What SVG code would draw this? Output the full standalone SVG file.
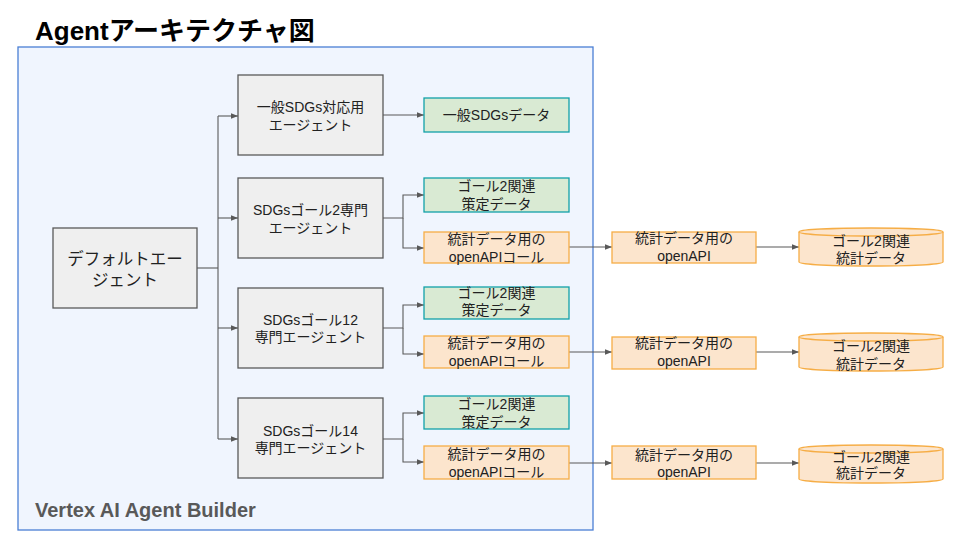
<svg xmlns="http://www.w3.org/2000/svg" width="960" height="540" viewBox="0 0 960 540">
<defs>
<style>
text{font-family:"Liberation Sans","Noto Sans CJK JP",sans-serif;fill:#212121;text-anchor:middle;}
.t14{font-size:14px;}
.t16{font-size:16.5px;}
.agent{fill:#efefef;stroke:#595959;stroke-width:1.3;}
.green{fill:#d9ead3;stroke:#12a0a8;stroke-width:1.3;}
.orange{fill:#fce5cd;stroke:#f6ad45;stroke-width:1.3;}
.conn{fill:none;stroke:#595959;stroke-width:1.1;}
</style>
<marker id="arr" viewBox="0 0 10 10" refX="10" refY="5" markerWidth="7" markerHeight="7" markerUnits="userSpaceOnUse" orient="auto">
<path d="M0,1 L10,5 L0,9 Z" fill="#595959"/>
</marker>
</defs>
<rect width="960" height="540" fill="#ffffff"/>
<text x="35" y="40" style="font-size:26px;font-weight:bold;text-anchor:start;fill:#000">Agentアーキテクチャ図</text>
<g id="container">
<rect x="18" y="47" width="575" height="483" fill="#f0f5fe" stroke="#4a7fd4" stroke-width="1.3"/>
<text x="35" y="517" style="font-size:20px;font-weight:bold;text-anchor:start;fill:#595959">Vertex AI Agent Builder</text>
</g>
<g id="connectors">
<path class="conn" d="M197,268 H218"/>
<path class="conn" d="M218,116 V439"/>
<path class="conn" d="M218,116 H238" marker-end="url(#arr)"/>
<path class="conn" d="M218,218 H238" marker-end="url(#arr)"/>
<path class="conn" d="M218,328 H238" marker-end="url(#arr)"/>
<path class="conn" d="M218,439 H238" marker-end="url(#arr)"/>
<path class="conn" d="M383,115 H424" marker-end="url(#arr)"/>
<path class="conn" d="M383,218 H403 V195 H424" marker-end="url(#arr)"/>
<path class="conn" d="M403,218 V248 H424" marker-end="url(#arr)"/>
<path class="conn" d="M383,328 H403 V305 H424" marker-end="url(#arr)"/>
<path class="conn" d="M403,328 V354 H424" marker-end="url(#arr)"/>
<path class="conn" d="M383,439 H403 V413 H424" marker-end="url(#arr)"/>
<path class="conn" d="M403,439 V462 H424" marker-end="url(#arr)"/>
<path class="conn" d="M569,247 H612" marker-end="url(#arr)"/>
<path class="conn" d="M569,352 H612" marker-end="url(#arr)"/>
<path class="conn" d="M569,463 H612" marker-end="url(#arr)"/>
<path class="conn" d="M756,247 H799" marker-end="url(#arr)"/>
<path class="conn" d="M756,352 H799" marker-end="url(#arr)"/>
<path class="conn" d="M756,463 H799" marker-end="url(#arr)"/>
</g>
<g id="default-agent">
<rect class="agent" x="53" y="228" width="144" height="80"/>
<text class="t16" x="125" y="265">デフォルトエー</text>
<text class="t16" x="125" y="286">ジェント</text>
</g>
<g id="agent-general">
<rect class="agent" x="238" y="75" width="145" height="80"/>
<text class="t14" x="310.5" y="112">一般SDGs対応用</text>
<text class="t14" x="310.5" y="130">エージェント</text>
</g>
<g id="data-general">
<rect class="green" x="424" y="98" width="145" height="34"/>
<text class="t14" x="496.5" y="120">一般SDGsデータ</text>
</g>
<g id="agent-goal2">
<rect class="agent" x="238" y="178" width="145" height="80"/>
<text class="t14" x="310.5" y="215">SDGsゴール2専門</text>
<text class="t14" x="310.5" y="233">エージェント</text>
</g>
<g id="policy-goal2">
<rect class="green" x="424" y="178" width="145" height="34"/>
<text class="t14" x="496.5" y="191">ゴール2関連</text>
<text class="t14" x="496.5" y="209">策定データ</text>
</g>
<g id="call-goal2">
<rect class="orange" x="424" y="232" width="145" height="31"/>
<text class="t14" x="496.5" y="244">統計データ用の</text>
<text class="t14" x="496.5" y="262">openAPIコール</text>
</g>
<g id="agent-goal12">
<rect class="agent" x="238" y="288" width="145" height="80"/>
<text class="t14" x="310.5" y="325">SDGsゴール12</text>
<text class="t14" x="310.5" y="342">専門エージェント</text>
</g>
<g id="policy-goal12">
<rect class="green" x="424" y="287" width="145" height="32"/>
<text class="t14" x="496.5" y="298">ゴール2関連</text>
<text class="t14" x="496.5" y="315">策定データ</text>
</g>
<g id="call-goal12">
<rect class="orange" x="424" y="336" width="145" height="32"/>
<text class="t14" x="496.5" y="348">統計データ用の</text>
<text class="t14" x="496.5" y="366">openAPIコール</text>
</g>
<g id="agent-goal14">
<rect class="agent" x="238" y="398" width="145" height="80"/>
<text class="t14" x="310.5" y="436">SDGsゴール14</text>
<text class="t14" x="310.5" y="453">専門エージェント</text>
</g>
<g id="policy-goal14">
<rect class="green" x="424" y="396" width="145" height="33"/>
<text class="t14" x="496.5" y="409">ゴール2関連</text>
<text class="t14" x="496.5" y="427">策定データ</text>
</g>
<g id="call-goal14">
<rect class="orange" x="424" y="446" width="145" height="33"/>
<text class="t14" x="496.5" y="459">統計データ用の</text>
<text class="t14" x="496.5" y="477">openAPIコール</text>
</g>
<g id="api-goal2">
<rect class="orange" x="612" y="232" width="144" height="31"/>
<text class="t14" x="684" y="243">統計データ用の</text>
<text class="t14" x="684" y="261">openAPI</text>
</g>
<g id="api-goal12">
<rect class="orange" x="612" y="337" width="144" height="32"/>
<text class="t14" x="684" y="348">統計データ用の</text>
<text class="t14" x="684" y="366">openAPI</text>
</g>
<g id="api-goal14">
<rect class="orange" x="612" y="446" width="144" height="33"/>
<text class="t14" x="684" y="460">統計データ用の</text>
<text class="t14" x="684" y="477">openAPI</text>
</g>
<g id="db-goal2">
<path class="orange" d="M799,232 A72,4 0 0 1 943,232 V262 A72,4 0 0 1 799,262 Z"/>
<path class="orange" d="M799,232 A72,4 0 0 0 943,232" fill="none"/>
<text class="t14" x="871" y="246">ゴール2関連</text>
<text class="t14" x="871" y="263">統計データ</text>
</g>
<g id="db-goal12">
<path class="orange" d="M799,337 A72,4 0 0 1 943,337 V367 A72,4 0 0 1 799,367 Z"/>
<path class="orange" d="M799,337 A72,4 0 0 0 943,337" fill="none"/>
<text class="t14" x="871" y="351">ゴール2関連</text>
<text class="t14" x="871" y="369">統計データ</text>
</g>
<g id="db-goal14">
<path class="orange" d="M799,449 A72,4 0 0 1 943,449 V479 A72,4 0 0 1 799,479 Z"/>
<path class="orange" d="M799,449 A72,4 0 0 0 943,449" fill="none"/>
<text class="t14" x="871" y="462">ゴール2関連</text>
<text class="t14" x="871" y="478">統計データ</text>
</g>
</svg>
